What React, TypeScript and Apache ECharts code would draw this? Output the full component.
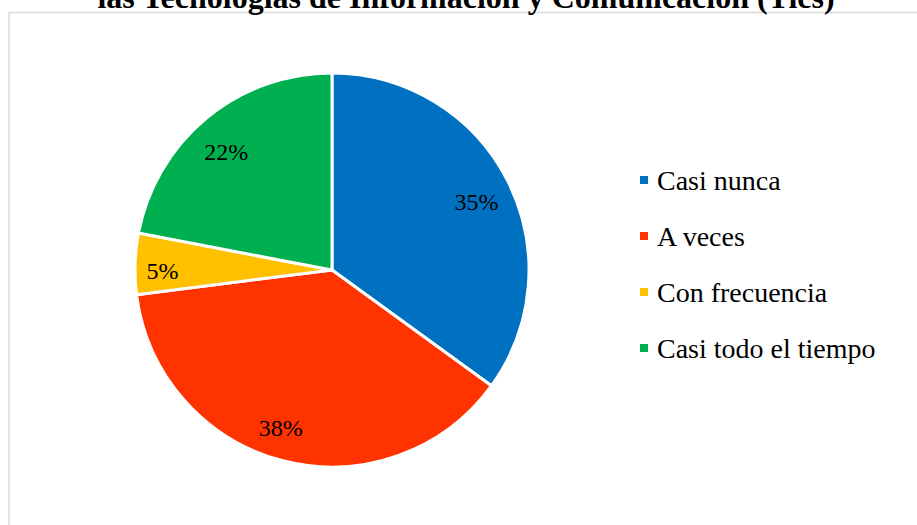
import React, { useEffect, useRef } from "react";
import * as echarts from "echarts";

const titleText = "las Tecnologías de Información y Comunicación (Tics)";
const categories = ["Casi nunca", "A veces", "Con frecuencia", "Casi todo el tiempo"];
const values = [35, 38, 5, 22];
const colors = ["#0070C0", "#FF3300", "#FFC000", "#00B050"];
const labelDx = [54, -26, -68, -41];
const labelDy = [-22, 60, 4, -40];

const FONT = "Times New Roman";

export default function App() {
  const ref = useRef<HTMLDivElement>(null);
  useEffect(() => {
    if (!ref.current) return;
    const chart = echarts.init(ref.current, undefined, { renderer: "svg" });
    chart.setOption({
      animation: false,
      backgroundColor: "#ffffff",
      textStyle: { fontFamily: FONT },
      graphic: [
        {
          type: "rect",
          shape: { x: 9, y: 12.5, width: 1000, height: 700 },
          style: { fill: "none", stroke: "#d9d9d9", lineWidth: 1.5 },
          silent: true,
        },
        {
          type: "text",
          x: 466,
          y: 13,
          style: {
            text: titleText,
            font: `bold 32px ${FONT}`,
            fill: "#000000",
            align: "center",
            verticalAlign: "bottom",
          },
          silent: true,
        },
      ],
      legend: {
        orient: "vertical",
        left: 638,
        top: 166,
        padding: 0,
        itemWidth: 10,
        itemHeight: 10,
        itemGap: 28,
        icon: "rect",
        data: categories,
        textStyle: {
          fontFamily: FONT,
          fontSize: 28,
          lineHeight: 28,
          color: "#000000",
          padding: [0, 0, 0, 3],
        },
      },
      series: [
        {
          type: "pie",
          center: [332, 270],
          radius: 197,
          startAngle: 90,
          clockwise: true,
          data: categories.map((name, i) => ({
            name,
            value: values[i],
            itemStyle: { color: colors[i] },
          })),
          itemStyle: { borderColor: "#ffffff", borderWidth: 3 },
          label: {
            show: true,
            position: "inside",
            formatter: "{d}%",
            fontFamily: FONT,
            fontSize: 24,
            color: "#000000",
          },
          labelLayout: (p: any) => ({ dx: labelDx[p.dataIndex], dy: labelDy[p.dataIndex] }),
          labelLine: { show: false },
          emphasis: { disabled: true },
        },
      ],
    });
    return () => chart.dispose();
  }, []);
  return (
    <div
      ref={ref}
      style={{ position: "fixed", left: 0, top: 0, width: 917, height: 525 }}
    />
  );
}
